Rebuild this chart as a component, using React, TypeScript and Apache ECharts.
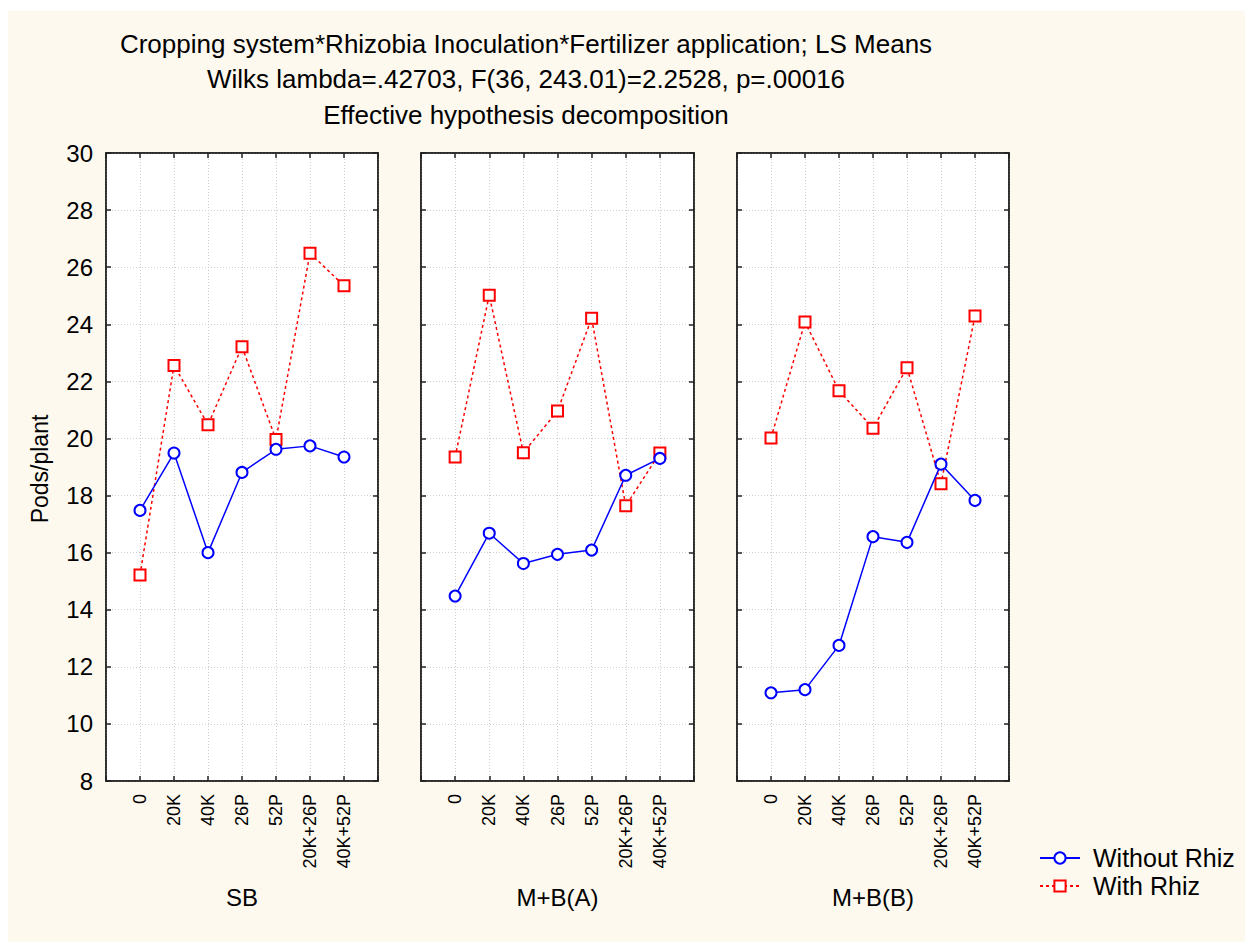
import React, { useEffect, useRef } from "react";
import * as echarts from "echarts";

const titleLines = [
  "Cropping system*Rhizobia Inoculation*Fertilizer application; LS Means",
  "Wilks lambda=.42703, F(36, 243.01)=2.2528, p=.00016",
  "Effective hypothesis decomposition",
];
const yAxisTitle = "Pods/plant";
const panels = ["SB", "M+B(A)", "M+B(B)"];
const categories = ["0", "20K", "40K", "26P", "52P", "20K+26P", "40K+52P"];
const seriesNames = ["Without Rhiz", "With Rhiz"];

const withoutSB = [17.48, 19.49, 16.0, 18.81, 19.62, 19.74, 19.35];
const withSB = [15.22, 22.56, 20.48, 23.21, 19.96, 26.49, 25.35];
const withoutMBA = [14.48, 16.68, 15.62, 15.94, 16.09, 18.71, 19.3];
const withMBA = [19.35, 25.02, 19.5, 20.96, 24.21, 17.64, 19.49];
const withoutMBB = [11.09, 11.2, 12.75, 16.56, 16.36, 19.1, 17.83];
const withMBB = [20.02, 24.08, 21.67, 20.36, 22.48, 18.41, 24.29];

const withoutData = [withoutSB, withoutMBA, withoutMBB];
const withData = [withSB, withMBA, withMBB];

const yMin = 8;
const yMax = 30;
const yStep = 2;

const FONT = "'Liberation Sans', Arial, sans-serif";
const BG = "#fdf9ee";

export default function App() {
  const ref = useRef<HTMLDivElement>(null);
  useEffect(() => {
    if (!ref.current) return;
    const chart = echarts.init(ref.current, undefined, { renderer: "svg" });
    const gridLefts = [98, 413, 729];
    const gridWidths = [272, 273, 272];
    const grids = gridLefts.map((l, i) => ({
      left: l,
      top: 142,
      width: gridWidths[i],
      height: 628,
      show: true,
      backgroundColor: "#ffffff",
      borderColor: "#222",
      borderWidth: 1.5,
      containLabel: false,
    }));
    const xAxes: any[] = [];
    const yAxes: any[] = [];
    panels.forEach((_, i) => {
      xAxes.push({
        type: "value",
        gridIndex: i,
        position: "bottom",
        min: 0,
        max: categories.length + 1,
        interval: 1,
        axisLine: { show: true, onZero: false, lineStyle: { color: "#222", width: 1.5 } },
        axisTick: { show: true, inside: true, length: 5, lineStyle: { color: "#222", width: 1.5 } },
        splitLine: { show: true, lineStyle: { color: "#cfcfcf", type: [1, 2], width: 1 } },
        axisLabel: {
          show: true,
          rotate: 90,
          margin: 13,
          fontSize: 18,
          fontFamily: FONT,
          color: "#000",
          formatter: (v: number) => categories[Math.round(v) - 1] ?? "",
        },
      });
      xAxes.push({
        type: "value",
        gridIndex: i,
        position: "top",
        min: 0,
        max: categories.length + 1,
        interval: 1,
        axisLine: { show: true, onZero: false, lineStyle: { color: "#222", width: 1.5 } },
        axisTick: { show: true, inside: true, length: 5, lineStyle: { color: "#222", width: 1.5 } },
        splitLine: { show: false },
        axisLabel: { show: false },
      });
      yAxes.push({
        type: "value",
        gridIndex: i,
        position: "left",
        min: yMin,
        max: yMax,
        interval: yStep,
        axisLine: { show: true, onZero: false, lineStyle: { color: "#222", width: 1.5 } },
        axisTick: { show: true, inside: true, length: 5, lineStyle: { color: "#222", width: 1.5 } },
        splitLine: { show: true, lineStyle: { color: "#cfcfcf", type: [1, 2], width: 1 } },
        axisLabel: {
          show: i === 0,
          margin: 13,
          fontSize: 24,
          fontFamily: FONT,
          color: "#000",
        },
      });
      yAxes.push({
        type: "value",
        gridIndex: i,
        position: "right",
        min: yMin,
        max: yMax,
        interval: yStep,
        axisLine: { show: true, onZero: false, lineStyle: { color: "#222", width: 1.5 } },
        axisTick: { show: true, inside: true, length: 5, lineStyle: { color: "#222", width: 1.5 } },
        splitLine: { show: false },
        axisLabel: { show: false },
      });
    });

    const series: any[] = [];
    panels.forEach((_, i) => {
      series.push({
        name: seriesNames[0],
        type: "line",
        xAxisIndex: i * 2,
        yAxisIndex: i * 2,
        data: categories.map((_, k) => [k + 1, withoutData[i][k]]),
        symbol: "emptyCircle",
        symbolSize: 11,
        lineStyle: { color: "#0000ff", width: 1.5, type: "solid" },
        itemStyle: { color: "#0000ff", borderWidth: 2 },
        z: 3,
      });
      series.push({
        name: seriesNames[1],
        type: "line",
        xAxisIndex: i * 2,
        yAxisIndex: i * 2,
        data: categories.map((_, k) => [k + 1, withData[i][k]]),
        symbol: "emptyRect",
        symbolSize: 11,
        lineStyle: { color: "#ff0000", width: 1.5, type: [3, 3] },
        itemStyle: { color: "#ff0000", borderWidth: 2 },
        z: 2,
      });
    });

    const panelCenters = [234, 549.5, 865];
    const graphic: any[] = [];
    const titleYs = [33, 68, 104];
    titleLines.forEach((t, i) => {
      graphic.push({
        type: "text",
        x: 518,
        y: titleYs[i],
        style: {
          text: t,
          fontSize: 26,
          fontFamily: FONT,
          fill: "#000",
          textAlign: "center",
          textVerticalAlign: "middle",
        },
      });
    });
    panels.forEach((p, i) => {
      graphic.push({
        type: "text",
        x: panelCenters[i],
        y: 886,
        style: {
          text: p,
          fontSize: 24,
          fontFamily: FONT,
          fill: "#000",
          textAlign: "center",
          textVerticalAlign: "middle",
        },
      });
    });
    graphic.push({
      type: "text",
      x: 32,
      y: 458,
      rotation: Math.PI / 2,
      style: {
        text: yAxisTitle,
        fontSize: 23,
        fontFamily: FONT,
        fill: "#000",
        textAlign: "center",
        textVerticalAlign: "middle",
      },
    });

    chart.setOption({
      animation: false,
      backgroundColor: BG,
      grid: grids,
      xAxis: xAxes,
      yAxis: yAxes,
      series,
      graphic,
      legend: {
        show: true,
        orient: "vertical",
        left: 1031,
        top: 834,
        padding: 0,
        data: seriesNames,
        itemWidth: 40,
        itemHeight: 14,
        itemGap: 2,
        textStyle: {
          fontSize: 25,
          fontFamily: FONT,
          color: "#000",
          lineHeight: 26,
          padding: [0, 0, 0, 8],
        },
        selectedMode: false,
      },
    });
    return () => chart.dispose();
  }, []);
  return (
    <div
      ref={ref}
      style={{ position: "fixed", left: 8, top: 11, width: 1237, height: 931 }}
    />
  );
}
